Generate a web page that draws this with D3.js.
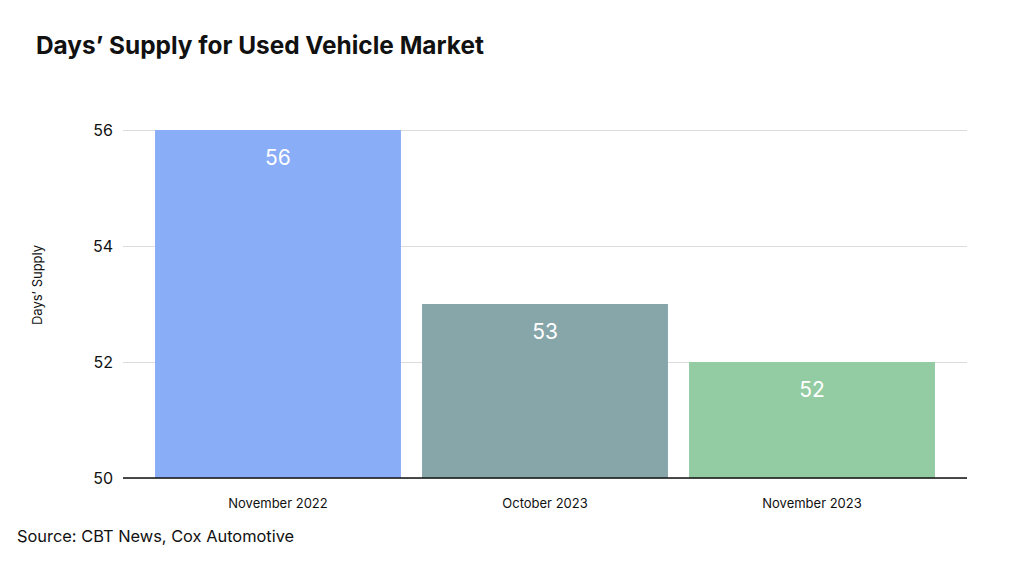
<!DOCTYPE html>
<html>
<head>
<meta charset="utf-8">
<title>Days' Supply for Used Vehicle Market</title>
<script src="https://cdnjs.cloudflare.com/ajax/libs/d3/7.8.5/d3.min.js"></script>
<style>
	body { margin: 0; background: #fff; }
	text { font-family: Inter, "Liberation Sans", Arial, sans-serif; }
</style>
</head>
<body>
<script>
	// data
	const months = ['November 2022', 'October 2023', 'November 2023'];
	const daysSupply = [56, 53, 52];
	const barColors = ['#8aadf8', '#86a6aa', '#93cca3'];
	const yTicks = [50, 52, 54, 56];

	const width = 1024, height = 565;
	const plotLeft = 123, plotRight = 967, plotTop = 130, plotBottom = 478;

	let svg = d3.select('body').append('svg')
		.attr('width', width)
		.attr('height', height);

	let x = d3.scaleBand()
		.domain(months)
		.range([plotLeft, plotRight])
		.paddingInner(0.079)
		.paddingOuter(0.12);

	let y = d3.scaleLinear()
		.domain([50, 56])
		.range([plotBottom, plotTop]);

	// gridlines + tick labels
	let yAxis = svg.append('g')
		.attr('transform', `translate(${plotLeft},0)`)
		.call(d3.axisLeft(y).tickValues(yTicks).tickFormat(d3.format('d'))
			.tickSize(-(plotRight - plotLeft)).tickPadding(10));
	yAxis.select('.domain').remove();
	yAxis.selectAll('.tick line').attr('stroke', '#dcdcdc');
	yAxis.selectAll('.tick text')
		.attr('fill', '#111')
		.style('font-size', '16px');

	// bars
	svg.selectAll('rect.bar').data(daysSupply)
		.enter().append('rect')
		.attr('class', 'bar')
		.attr('x', (d, i) => x(months[i]))
		.attr('y', d => y(d))
		.attr('width', x.bandwidth())
		.attr('height', d => y(50) - y(d))
		.attr('fill', (d, i) => barColors[i]);

	// value labels
	svg.selectAll('text.val').data(daysSupply)
		.enter().append('text')
		.attr('class', 'val')
		.attr('x', (d, i) => x(months[i]) + x.bandwidth() / 2)
		.attr('y', d => y(d) + 35)
		.attr('text-anchor', 'middle')
		.attr('fill', '#fff')
		.style('font-size', '21px')
		.text(d => d);

	// baseline
	svg.append('line')
		.attr('x1', plotLeft).attr('x2', plotRight)
		.attr('y1', y(50)).attr('y2', y(50))
		.attr('stroke', '#111')
		.attr('stroke-width', 1.5);

	// category labels
	let xAxis = svg.append('g')
		.attr('transform', `translate(0,${plotBottom})`)
		.call(d3.axisBottom(x).tickSize(0).tickPadding(21));
	xAxis.select('.domain').remove();
	xAxis.selectAll('.tick text')
		.attr('fill', '#111')
		.style('font-size', '13px');

	// y title
	svg.append('text')
		.attr('transform', 'translate(42,285) rotate(-90)')
		.attr('text-anchor', 'middle')
		.attr('fill', '#111')
		.style('font-size', '13px')
		.text('Days’ Supply');

	// title
	svg.append('text')
		.attr('x', 36).attr('y', 54)
		.attr('fill', '#111')
		.style('font-size', '24.4px')
		.style('font-weight', 'bold')
		.text('Days’ Supply for Used Vehicle Market');

	// source
	svg.append('text')
		.attr('x', 17).attr('y', 542)
		.attr('fill', '#111')
		.style('font-size', '16.4px')
		.text('Source: CBT News, Cox Automotive');
</script>
</body>
</html>
